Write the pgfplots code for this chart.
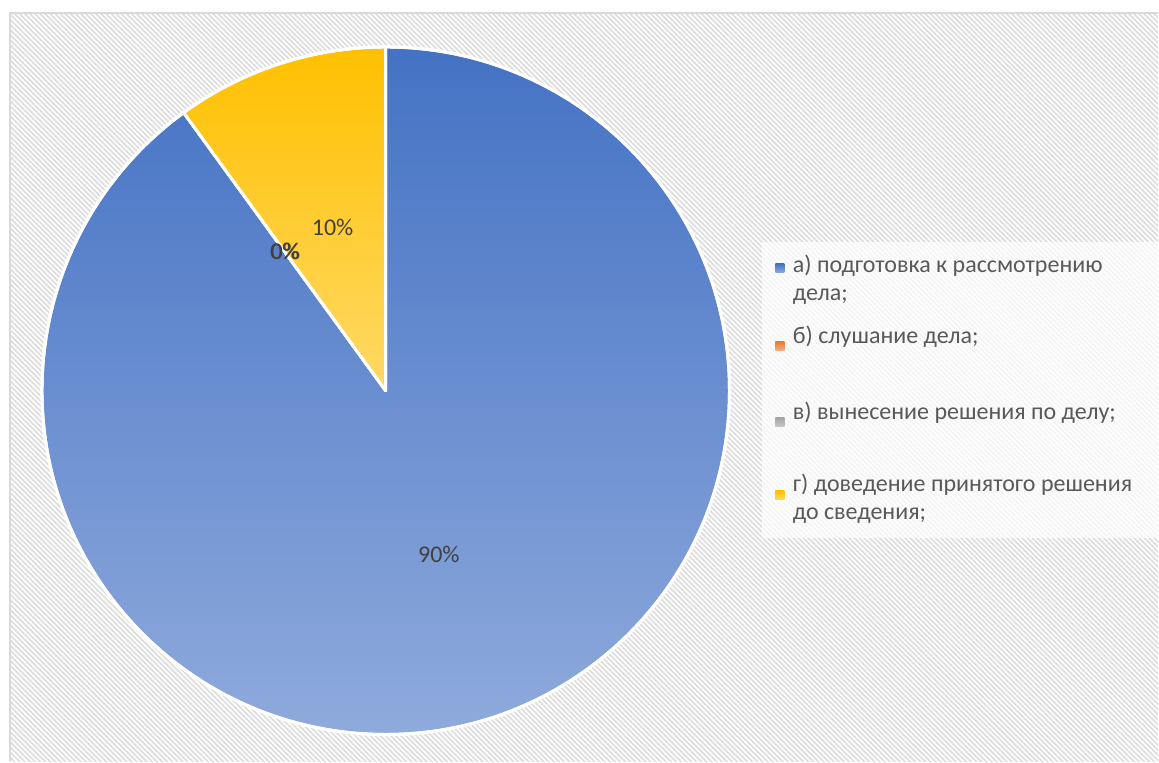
\documentclass[border=0pt]{standalone}
\usepackage{fontspec}
\setmainfont{Carlito}
\usepackage{pgfplots}
\pgfplotsset{compat=1.18}
\usepackage{pgfplotstable}
\usetikzlibrary{patterns.meta}

\definecolor{blueTop}{HTML}{4472C4}
\definecolor{blueBot}{HTML}{8FAADC}
\definecolor{orTop}{HTML}{ED7D31}
\definecolor{orBot}{HTML}{F4B183}
\definecolor{grTop}{HTML}{A5A5A5}
\definecolor{grBot}{HTML}{C9C9C9}
\definecolor{yeTop}{HTML}{FFC000}
\definecolor{yeBot}{HTML}{FFD966}
\definecolor{legtxt}{HTML}{595959}
\definecolor{lbltxt}{HTML}{404040}
\definecolor{framec}{HTML}{D9D9D9}

% shares in percent
\pgfplotstableread{
share
90
0
0
10
}\piedata

\pgfplotstablegetelem{0}{share}\of\piedata \let\vA\pgfplotsretval
\pgfplotstablegetelem{1}{share}\of\piedata \let\vB\pgfplotsretval
\pgfplotstablegetelem{2}{share}\of\piedata \let\vC\pgfplotsretval
\pgfplotstablegetelem{3}{share}\of\piedata \let\vD\pgfplotsretval
\pgfmathtruncatemacro\pA{\vA}
\pgfmathtruncatemacro\pB{\vB}
\pgfmathtruncatemacro\pC{\vC}
\pgfmathtruncatemacro\pD{\vD}

% angles, clockwise from 12 o'clock
\pgfmathsetmacro\aA{90}
\pgfmathsetmacro\aB{\aA-3.6*\vA}
\pgfmathsetmacro\aC{\aB-3.6*\vB}
\pgfmathsetmacro\aD{\aC-3.6*\vC}
\pgfmathsetmacro\aE{\aD-3.6*\vD}
\pgfmathsetmacro\mA{(\aA+\aB)/2}
\pgfmathsetmacro\mB{(\aB+\aC)/2}
\pgfmathsetmacro\mC{(\aC+\aD)/2}
\pgfmathsetmacro\mD{(\aD+\aE)/2}

% radius 344 px = 172pt
\newcommand\slice[4]{%
  \shadedraw[top color=#3, bottom color=#4, draw=white, line width=1.5pt, line join=round]
    (axis cs:386,371) -- ++(#1:172pt) arc[start angle=#1, end angle=#2, radius=172pt] -- cycle;}
\newcommand\legsq[3]{%
  \shade[top color=#2, bottom color=#3] (axis cs:776,#1) rectangle (axis cs:785,#1+9);}

\begin{document}
\begin{tikzpicture}
\begin{axis}[
    scale only axis,
    width=579.5pt, height=381pt,
    xmin=0, xmax=1159, ymin=0, ymax=762,
    hide axis,
    clip=false,
    font=\fontsize{12pt}{14pt}\selectfont,
]
% background and frame
\fill[white] (axis cs:0,0) rectangle (axis cs:1159,762);
\begin{scope}
\clip (axis cs:10,0) rectangle (axis cs:1159,749);
\fill[overlay, pattern={Lines[angle=-45,distance=1.8pt,line width=0.9pt]}, pattern color=black!13]
  (axis cs:0,-20) rectangle (axis cs:1190,760);
\end{scope}
\draw[framec, line width=0.8pt] (axis cs:10,0) -- (axis cs:10,749) -- (axis cs:1159,749);

% slices
\slice{\aA}{\aB}{blueTop}{blueBot}
\slice{\aB}{\aC}{orTop}{orBot}
\slice{\aC}{\aD}{grTop}{grBot}
\slice{\aD}{\aE}{yeTop}{yeBot}
\draw[white, line width=1.5pt] (axis cs:386,371) circle[radius=172pt];

% data labels
\node[lbltxt] at ([shift={(\mA:86pt)}]axis cs:386,371) {\pA\%};
\node[lbltxt] at ([shift={(\mB:86pt)}]axis cs:386,371) {\pB\%};
\node[lbltxt] at ([shift={(\mC:86pt)}]axis cs:386.8,371.4) {\pC\%};
\node[lbltxt] at ([shift={(\mD:86pt)}]axis cs:386,371) {\pD\%};

% legend
\fill[white, opacity=0.7] (axis cs:763,224) rectangle (axis cs:1159,520);
\legsq{489}{blueTop}{blueBot}
\legsq{411}{orTop}{orBot}
\legsq{335}{grTop}{grBot}
\legsq{262}{yeTop}{yeBot}
\node[legtxt, anchor=base west, inner sep=0pt, align=left] at (axis cs:793,461)
  {а) подготовка к рассмотрению\\дела;};
\node[legtxt, anchor=base west, inner sep=0pt] at (axis cs:793,418) {б) слушание дела;};
\node[legtxt, anchor=base west, inner sep=0pt] at (axis cs:793,342) {в) вынесение решения по делу;};
\node[legtxt, anchor=base west, inner sep=0pt, align=left] at (axis cs:793,242)
  {г) доведение принятого решения\\до сведения;};
\end{axis}
\end{tikzpicture}
\end{document}
